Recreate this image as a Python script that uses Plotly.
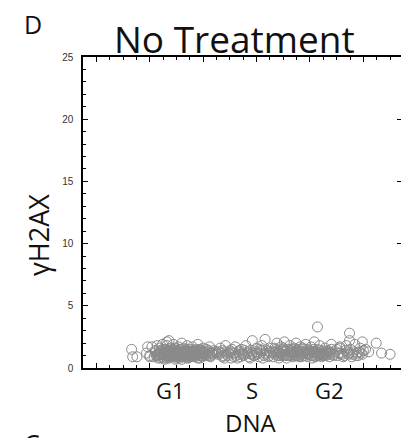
import plotly.graph_objects as go

# ---- data (DNA content in arbitrary units, gamma-H2AX intensity) ----
g1_x = [33, 34, 38, 48, 50, 57, 66,
        47, 50, 52, 54, 55, 57, 58, 59, 60, 61, 62, 63, 64, 65, 66, 66, 67, 68, 68, 69, 70, 70,
        71, 72, 72, 73, 74, 74, 75, 76, 76, 77, 78, 78, 79, 80, 80, 81, 82, 82, 83, 84, 85, 85,
        86, 87, 88, 88, 89, 90, 91, 92, 93, 94, 95, 96, 97, 98, 99, 100, 102, 104, 106, 108, 110,
        56, 61, 63, 65, 67, 69, 71, 73, 75, 77, 79, 81, 83, 86, 89, 92, 95, 98, 101, 105,
        64, 70, 76, 82, 88, 94, 100, 107, 62, 72, 84, 90, 96, 103, 109, 112,
        58, 60, 66, 68, 74, 78, 80, 86, 91, 97]
g1_y = [1.5, 0.9, 0.9, 1.7, 0.9, 1.8, 2.1,
        1.2, 1.0, 1.7, 0.9, 1.4, 1.1, 0.8, 1.6, 1.3, 0.9, 1.9, 1.2, 0.7, 1.5, 1.0, 1.8, 1.3, 0.8, 2.2, 1.1, 1.6, 0.9,
        1.4, 1.0, 1.9, 1.2, 0.7, 1.6, 1.1, 1.4, 0.9, 1.7, 1.2, 0.8, 1.5, 1.0, 2.0, 1.3, 0.9, 1.6, 1.1, 1.4, 0.8, 1.8,
        1.2, 1.0, 1.5, 0.9, 1.3, 1.7, 1.1, 0.9, 1.4, 1.2, 1.9, 1.0, 1.5, 1.2, 0.9, 1.6, 1.3, 1.0, 1.7, 1.2, 1.4,
        1.0, 1.2, 1.0, 1.2, 1.0, 1.3, 1.1, 0.9, 1.3, 1.0, 1.2, 1.1, 1.3, 1.0, 1.1, 1.2, 1.1, 1.4, 1.1, 1.3,
        1.3, 1.2, 1.1, 1.2, 1.1, 1.0, 1.2, 1.0, 1.5, 1.5, 1.0, 1.2, 1.3, 1.5, 1.1, 1.3,
        1.0, 0.8, 0.8, 1.0, 1.0, 1.1, 0.7, 0.8, 1.0, 0.8]
g1b_x = [55, 57, 59, 60, 62, 63, 64, 65, 66, 67, 68, 69, 70, 71, 72, 73, 74, 75, 76, 77,
         78, 79, 80, 81, 82, 83, 84, 85, 86, 87, 88, 89, 90, 91, 92, 93, 94, 95, 96, 97,
         99, 101, 103, 105, 107, 109,
         60, 63, 66, 69, 72, 75, 78, 81, 84, 87, 90, 93, 96, 99, 102, 106]
g1b_y = [1.3, 1.0, 1.2, 1.4, 1.1, 0.8, 1.5, 1.3, 1.2, 0.9, 1.4, 1.0, 1.3, 1.5, 1.2, 1.0, 1.4, 0.8, 1.2, 1.4,
         1.0, 1.3, 1.1, 0.9, 1.4, 1.2, 1.5, 1.1, 1.3, 0.9, 1.2, 1.0, 1.4, 1.3, 1.1, 1.5, 1.3, 0.8, 1.1, 1.2,
         1.0, 1.2, 1.1, 1.4, 0.9, 1.2,
         1.1, 1.1, 1.4, 1.2, 1.3, 1.0, 1.5, 1.3, 1.2, 1.3, 1.0, 1.3, 1.4, 1.3, 1.0, 1.2]

s_x = [114, 116, 118, 120, 121, 123, 125, 126, 128, 130, 131, 133, 135, 136, 138, 140, 141, 143,
       144, 146, 147, 149, 150, 152, 154, 155, 157, 158, 160, 161, 163, 164,
       115, 119, 124, 129, 134, 139, 145, 151, 156, 162, 117, 127, 137, 148, 153, 159,
       113, 118, 122, 126, 130, 134, 138, 142, 146, 150, 154, 158, 162, 120, 132, 144, 156]
s_y = [1.1, 1.6, 0.9, 1.3, 1.8, 1.0, 1.4, 0.8, 1.2, 1.7, 1.0, 1.3, 0.9, 1.5, 1.1, 1.8, 1.2, 0.9,
       1.4, 2.2, 1.0, 1.3, 1.6, 0.9, 1.2, 1.8, 1.0, 2.3, 1.4, 0.9, 1.2, 1.6,
       1.3, 1.0, 1.2, 0.9, 1.1, 1.4, 1.1, 1.2, 1.4, 1.0, 1.2, 1.5, 1.2, 1.0, 1.5, 1.1,
       1.2, 1.4, 1.1, 1.3, 1.2, 1.4, 1.0, 1.3, 1.2, 1.1, 1.4, 1.2, 1.3, 0.8, 0.8, 0.8, 0.8]

g2_x = [165, 166, 167, 168, 169, 170, 171, 172, 173, 174, 175, 176, 177, 178, 179, 180, 181, 182,
        183, 184, 185, 186, 187, 188, 189, 190, 191, 192, 193, 194, 195, 196, 197, 198, 199, 200,
        201, 202, 203, 204, 205, 206, 207, 208, 209, 210, 211, 212, 213, 214, 215, 216, 218, 219,
        220, 222, 168, 172, 176, 180, 184, 188, 192, 196, 200, 204, 208, 212, 216,
        174, 186, 198, 206, 214, 207, 178, 190, 202, 210]
g2_y = [1.3, 0.9, 1.6, 1.1, 2.0, 1.4, 0.8, 1.2, 1.7, 1.0, 1.4, 2.1, 1.1, 0.8, 1.5, 1.2, 1.8, 1.0,
        1.3, 0.9, 1.6, 1.2, 2.0, 1.0, 1.4, 1.1, 1.7, 0.9, 1.3, 1.5, 1.0, 1.9, 1.2, 0.9, 1.4, 1.1,
        1.7, 1.0, 1.3, 2.1, 0.9, 1.2, 1.5, 1.0, 1.8, 1.2, 0.9, 1.4, 1.1, 1.6, 1.0, 1.3, 0.9, 1.2,
        1.5, 1.0, 1.3, 1.0, 1.3, 1.0, 1.2, 1.3, 1.1, 1.3, 1.2, 1.3, 1.2, 1.1, 1.1,
        1.5, 1.0, 1.1, 1.0, 1.3, 3.3, 1.0, 0.9, 0.8, 1.1]
g2b_x = [166, 168, 170, 171, 173, 175, 177, 179, 181, 183, 185, 187, 189, 191, 193, 195, 197, 199,
         201, 203, 205, 207, 209, 211, 213, 215, 217, 219,
         170, 176, 182, 188, 194, 200, 206, 212, 218]
g2b_y = [1.2, 1.5, 1.0, 1.3, 1.1, 1.6, 1.4, 1.0, 1.3, 1.5, 1.1, 1.4, 1.2, 1.0, 1.6, 1.3, 1.5, 1.2,
         1.0, 1.5, 1.3, 1.1, 1.4, 1.2, 1.0, 1.2, 1.4, 1.1,
         1.2, 1.0, 1.4, 1.5, 1.2, 1.4, 1.3, 1.0, 1.3]

tail_x = [224, 226, 228, 229, 231, 233, 234, 236, 238, 239, 241, 242, 244, 245, 247, 249, 250,
          230, 235, 240, 246, 220, 228, 237, 237, 249, 262, 267, 275,
          222, 225, 227, 232, 237, 243, 248, 252, 255]
tail_y = [1.3, 1.0, 1.6, 1.2, 0.9, 1.4, 1.8, 1.1, 1.5, 0.9, 1.3, 1.9, 1.2, 1.0, 1.6, 1.1, 1.4,
          1.1, 1.3, 1.1, 1.3, 1.9, 1.7, 2.2, 2.8, 2.1, 2.0, 1.2, 1.1,
          1.1, 1.5, 1.2, 1.0, 1.2, 1.0, 1.2, 1.5, 1.3]

phase_labels = ["G1", "S", "G2"]
phase_pos = [69, 146, 218]

x_all = g1_x + g1b_x + s_x + g2_x + g2b_x + tail_x
y_all = g1_y + g1b_y + s_y + g2_y + g2b_y + tail_y

fig = go.Figure()
fig.add_trace(go.Scatter(
    x=x_all, y=y_all, mode="markers",
    marker=dict(symbol="circle-open", size=10, color="#8a8a8a", line=dict(width=1)),
    showlegend=False, hoverinfo="skip"))
fig.add_trace(go.Scatter(x=[0], y=[0], yaxis="y2", mode="markers",
                         marker=dict(opacity=0), showlegend=False, hoverinfo="skip"))

FONT = "Open Sans"
fig.update_layout(
    width=401, height=438,
    margin=dict(l=83, r=0, t=57, b=70),
    paper_bgcolor="white", plot_bgcolor="white",
    xaxis=dict(range=[-12.5, 285.2], showgrid=False, zeroline=False,
               showline=True, linecolor="black", linewidth=1.5, mirror="ticks",
               ticks="inside", ticklen=5, tickwidth=1, tickcolor="black",
               tick0=0, dtick=50, showticklabels=False,
               minor=dict(ticks="inside", ticklen=3, tickwidth=1, dtick=12.5, tick0=0,
                          tickcolor="black", showgrid=False)),
    yaxis=dict(range=[0, 25], showgrid=False, zeroline=False,
               showline=True, linecolor="black", linewidth=1.5,
               ticks="inside", ticklen=5, tickwidth=1, tickcolor="black",
               tick0=0, dtick=5,
               tickfont=dict(family="Liberation Sans", size=10, color="#333"),
               ticklabelstandoff=6,
               minor=dict(ticks="inside", ticklen=3, tickwidth=1, dtick=1,
                          tickcolor="black", showgrid=False)),
    yaxis2=dict(range=[0, 25], overlaying="y", side="right", anchor="free", position=1,
                showgrid=False, zeroline=False, showline=False,
                ticks="inside", ticklen=4, tickwidth=1, tickcolor="black",
                tickvals=[5, 10, 15, 20], showticklabels=False),
)

ann = []
ann.append(dict(text="No Treatment", x=0.475, y=(368 - 39) / 311, xref="paper", yref="paper",
                showarrow=False, font=dict(family=FONT, size=37, color="#111"),
                xanchor="center", yanchor="middle"))
ann.append(dict(text="D", x=(33 - 83) / 318, y=(368 - 24) / 311, xref="paper", yref="paper",
                showarrow=False, font=dict(family=FONT, size=25, color="#111"),
                xanchor="center", yanchor="middle"))
ann.append(dict(text="C", x=(32 - 83) / 318, y=(368 - 443) / 311, xref="paper", yref="paper",
                showarrow=False, font=dict(family=FONT, size=25, color="#111"),
                xanchor="center", yanchor="middle"))
for lab, pos in zip(phase_labels, phase_pos):
    ann.append(dict(text=lab, x=pos, y=(368 - 390) / 311, xref="x", yref="paper",
                    showarrow=False, font=dict(family=FONT, size=22, color="#111"),
                    xanchor="center", yanchor="middle"))
ann.append(dict(text="DNA", x=(250 - 83) / 318, y=(368 - 422) / 311, xref="paper", yref="paper",
                showarrow=False, font=dict(family=FONT, size=24, color="#111"),
                xanchor="center", yanchor="middle"))
ann.append(dict(text="γH2AX", x=(38 - 83) / 318, y=(368 - 235) / 311, xref="paper", yref="paper",
                showarrow=False, textangle=-90, font=dict(family=FONT, size=27, color="#111"),
                xanchor="center", yanchor="middle"))
fig.update_layout(annotations=ann)

fig.write_html("out.html")
